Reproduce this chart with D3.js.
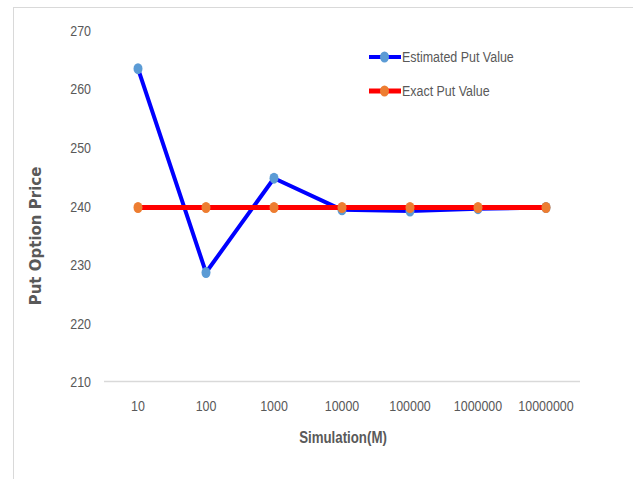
<!DOCTYPE html>
<html><head><meta charset="utf-8">
<script src="https://cdn.jsdelivr.net/npm/d3@7"></script>
<style>
html,body{margin:0;padding:0;background:#fff;}
svg{display:block;}
</style></head>
<body>
<svg id="chart" width="633" height="479"></svg>
<script>
const categories = ["10","100","1000","10000","100000","1000000","10000000"];
const estimatedPut = [263.4, 228.6, 244.7, 239.3, 239.1, 239.5, 239.7];
const exactPut = [239.7, 239.7, 239.7, 239.7, 239.7, 239.7, 239.7];
const yTicks = [210, 220, 230, 240, 250, 260, 270];
const seriesNames = ["Estimated Put Value", "Exact Put Value"];

(function(){
const svg = d3.select("#chart");
const font = "'Liberation Sans', Arial, sans-serif";
const gray = "#595959";
const sx = 0.83;

// chart frame
svg.append("rect").attr("x",13.5).attr("y",7.5).attr("width",640).attr("height",500)
  .attr("fill","none").attr("stroke","#d9d9d9").attr("stroke-width",1);

const pLeft = 104, pRight = 580, pTop = 30, pBottom = 381.5;
const x = d3.scaleBand().domain(categories).range([pLeft, pRight]);
const y = d3.scaleLinear().domain([210, 270]).range([pBottom, pTop]);

// baseline
svg.append("line").attr("x1",pLeft).attr("x2",pRight).attr("y1",y(210)).attr("y2",y(210))
  .attr("stroke","#d9d9d9").attr("stroke-width",1.5);

// y axis
const yAxis = d3.axisLeft(y).tickValues(yTicks).tickSize(0).tickPadding(0).tickFormat(d3.format("d"));
const gy = svg.append("g").attr("transform","translate(91,0)").call(yAxis);
gy.select(".domain").remove();
gy.selectAll("text").attr("x",0).attr("font-family",font).attr("font-size",15).attr("fill",gray)
  .attr("dy","0.35em").attr("transform",`scale(${sx},1)`);

// x axis
const xAxis = d3.axisBottom(x).tickSize(0).tickPadding(0);
const gx = svg.append("g").attr("transform","translate(0,400)").call(xAxis);
gx.select(".domain").remove();
gx.selectAll("text").attr("y",0).attr("font-family",font).attr("font-size",15).attr("fill",gray)
  .attr("dy","0.71em").attr("transform",`scale(${sx},1)`);

// axis titles
svg.append("text").attr("transform",`translate(${(pLeft+pRight)/2 + 1},443) scale(${sx},1)`)
  .attr("text-anchor","middle").attr("font-family",font).attr("font-size",16).attr("font-weight","bold")
  .attr("fill",gray).text("Simulation(M)");
svg.append("text").attr("transform","translate(41,236) rotate(-90)")
  .attr("text-anchor","middle").attr("font-family","'DejaVu Sans', Verdana, sans-serif").attr("font-size",15)
  .attr("font-weight","bold").attr("fill",gray).text("Put Option Price");

const cx = d => x(d) + x.bandwidth()/2;
const line = d3.line().x((d,i)=>cx(categories[i])).y(d=>y(d));

const series = [
  {name: seriesNames[0], values: estimatedPut, line: "#0000FF", marker: "#5B9BD5", w: 4},
  {name: seriesNames[1], values: exactPut, line: "#FF0000", marker: "#ED7D31", w: 5}
];

series.forEach(s => {
  svg.append("path").datum(s.values).attr("d", line).attr("fill","none")
    .attr("stroke", s.line).attr("stroke-width", s.w).attr("stroke-linejoin","round");
  svg.selectAll(null).data(s.values).enter().append("ellipse")
    .attr("cx",(d,i)=>cx(categories[i])).attr("cy",d=>y(d))
    .attr("rx",4.5).attr("ry",5.5).attr("fill",s.marker);
});

// legend
const legY = [57, 91];
series.forEach((s,i) => {
  const g = svg.append("g");
  g.append("line").attr("x1",369).attr("x2",401).attr("y1",legY[i]).attr("y2",legY[i])
    .attr("stroke",s.line).attr("stroke-width",s.w);
  g.append("ellipse").attr("cx",384.5).attr("cy",legY[i]).attr("rx",4.5).attr("ry",5.5).attr("fill",s.marker);
  g.append("text").attr("transform",`translate(402,${legY[i]}) scale(${sx},1)`).attr("dy","0.35em")
    .attr("font-family",font).attr("font-size",15).attr("fill",gray).text(s.name);
});
})();
</script>
</body></html>
